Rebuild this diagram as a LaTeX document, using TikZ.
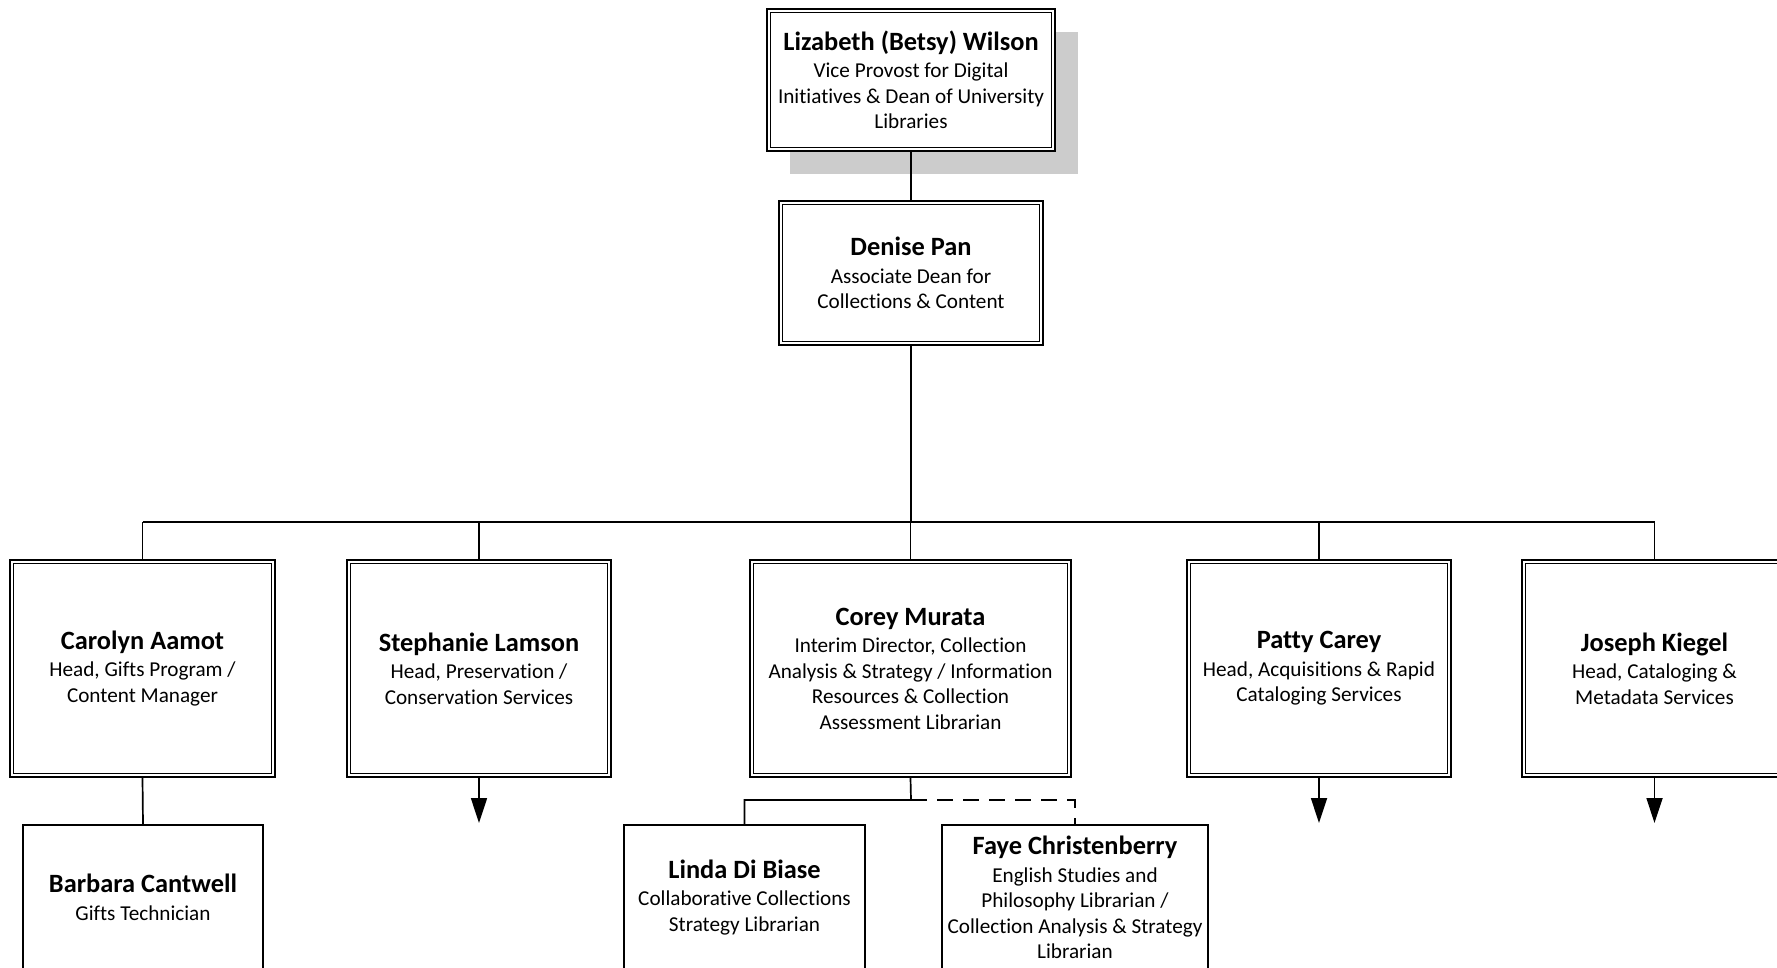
\documentclass[tikz,border=0pt]{standalone}
\usepackage{fontspec}
\setmainfont{Carlito}[Ligatures={NoCommon}]
\usetikzlibrary{arrows.meta,shadows}
\newcommand\nm[1]{{\fontsize{13.2}{15}\selectfont\bfseries #1}}
\begin{document}
\begin{tikzpicture}[x=0.5pt,y=-0.5pt,
  person/.style={draw, line width=1.1pt, fill=white, inner sep=0pt, align=center,
    font=\fontsize{10.6}{12.75}\selectfont},
  sbox/.style={person, line width=1pt},
  innerline/.style={line width=0.55pt},
  link/.style={line width=0.85pt},
  downarrow/.style={link, -{Triangle[width=8pt,length=12.5pt]}},
  dotted link/.style={link, dash pattern=on 8pt off 5pt},
  shadowed/.style={drop shadow={opacity=1, fill=black!20, shadow xshift=11.5pt, shadow yshift=-11.5pt}}
]
\useasboundingbox (0,0) rectangle (1777,968);
\clip (0,0) rectangle (1777,968);

% top boxes
\node[person, shadowed, minimum width=144pt, minimum height=71pt] (wilson) at (911,80)
  {\nm{Lizabeth (Betsy) Wilson}\\[1pt]Vice Provost for Digital\\Initiatives \& Dean of University\\Libraries};
\node[person, minimum width=132pt, minimum height=72pt] (denise) at (911,273)
  {\nm{Denise Pan}\\[1pt]Associate Dean for\\Collections \& Content};

% second level
\node[person, minimum width=132.5pt, minimum height=108.5pt] (carolyn) at (142.5,668.5)
  {\nm{Carolyn Aamot}\\[1pt]Head, Gifts Program /\\Content Manager};
\node[person, minimum width=132pt, minimum height=108.5pt] (stephanie) at (479,668.5)
  {\nm{Stephanie Lamson}\\[1pt]Head, Preservation /\\Conservation Services};
\node[person, minimum width=160.5pt, minimum height=108.5pt] (corey) at (910.5,668.5)
  {\nm{Corey Murata}\\[1pt]Interim Director, Collection\\Analysis \& Strategy / Information\\Resources \& Collection\\Assessment Librarian};
\node[person, minimum width=132pt, minimum height=108.5pt] (patty) at (1319,668.5)
  {\nm{Patty Carey}\\[1pt]Head, Acquisitions \& Rapid\\Cataloging Services};
\node[person, minimum width=132.5pt, minimum height=108.5pt] (joseph) at (1654.5,668.5)
  {\nm{Joseph Kiegel}\\[1pt]Head, Cataloging \&\\Metadata Services};

% third level
\node[sbox, minimum width=120pt, minimum height=72.5pt] (barbara) at (143,897.5)
  {\nm{Barbara Cantwell}\\[1pt]Gifts Technician};
\node[sbox, minimum width=120.5pt, minimum height=72.5pt] (linda) at (744.5,897.5)
  {\nm{Linda Di Biase}\\[1pt]Collaborative Collections\\Strategy Librarian};
\node[sbox, minimum width=133pt, minimum height=72.5pt] (faye) at (1075,897.5)
  {\nm{Faye Christenberry}\\[1pt]English Studies and\\Philosophy Librarian /\\Collection Analysis \& Strategy\\Librarian};

% inner lines of double borders
\foreach \n in {wilson,denise,carolyn,stephanie,corey,patty,joseph}
  \draw[innerline] ([shift={(2.2pt,-2.2pt)}]\n.north west) rectangle ([shift={(-2.2pt,2.2pt)}]\n.south east);

% connectors
\coordinate (bus) at (911,522);
\coordinate (cb) at (911,800);
\draw[link] (wilson.south) -- (denise.north);
\draw[link] (denise.south) -- (bus);
\draw[link] (bus -| carolyn.north) -- (bus -| joseph.north);
\foreach \n in {carolyn,stephanie,corey,patty,joseph}
  \draw[link] (bus -| \n.north) -- (\n.north);
\draw[link] (carolyn.south) -- (barbara.north);
\draw[link] (corey.south) -- (cb) -| (linda.north);
\draw[dotted link] (cb) -| (faye.north);

\coordinate (sa) at (479,823);
\coordinate (pa) at (1319,823);
\coordinate (ja) at (1654.5,823);
\draw[downarrow] (stephanie.south) -- (sa);
\draw[downarrow] (patty.south) -- (pa);
\draw[downarrow] (joseph.south) -- (ja);
\end{tikzpicture}
\end{document}
